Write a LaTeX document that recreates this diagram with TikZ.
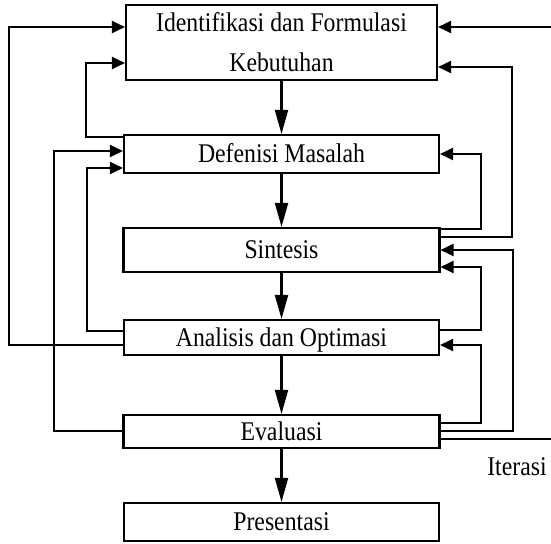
\documentclass[tikz,border=0pt]{standalone}
\usepackage{fontspec}
\setmainfont{Liberation Serif}[FakeStretch=0.88]
\usetikzlibrary{arrows.meta}
\begin{document}
\begin{tikzpicture}[x=1pt,y=-1pt,
  txt/.style={font=\fontsize{27}{40}\selectfont},
  box/.style={draw, line width=2.1pt, inner sep=0pt, txt},
  one/.style={text height=17.9pt, text depth=0pt},
  dn/.style={line width=2.1pt, -{Triangle[length=24pt,width=13pt]}},
  fb/.style={line width=2.1pt, -{Triangle[length=13pt,width=12pt]}},
  ln/.style={line width=2.1pt}
  ]
\useasboundingbox (0,0) rectangle (551,543);
\node[box, minimum width=311pt, minimum height=75pt, align=center] (b1) at (281.5,42.5) {Identifikasi dan Formulasi\\Kebutuhan};
\node[box, one, minimum width=315pt, minimum height=38pt] (b2) at (281.5,154) {Defenisi Masalah};
\node[box, one, minimum width=316pt, minimum height=44pt] (b3) at (281.5,250) {Sintesis};
\node[box, one, minimum width=315pt, minimum height=35pt] (b4) at (281.5,337.5) {Analisis dan Optimasi};
\node[box, one, minimum width=316pt, minimum height=33pt] (b5) at (281.5,431.5) {Evaluasi};
\node[box, one, minimum width=315pt, minimum height=38pt] (b6) at (281.5,522) {Presentasi};
\node[txt, anchor=base, inner sep=0pt] (it) at (517,475) {Iterasi};
% main flow
\draw[dn] (b1) -- (b2);
\draw[dn] (b2) -- (b3);
\draw[dn] (b3) -- (b4);
\draw[dn] (b4) -- (b5);
\draw[dn] (b5) -- (b6);
% left feedback
\draw[fb] (b4.west |- 0,345) -| (9,27) -- (b1.west |- 0,27);
\draw[fb] (b2.west |- 0,137) -| (86,63) -- (b1.west |- 0,63);
\draw[fb] (b5.west |- 0,431) -| (54,151) -- (b2.west |- 0,151);
\draw[fb] (b4.west |- 0,331) -| (87,168) -- (b2.west |- 0,168);
% right feedback
\coordinate (e1) at (551,27);
\coordinate (e2) at (551,439);
\draw[fb] (e1) -- (b1.east |- e1);
\draw[fb] (b3.east |- 0,237) -| (512,67) -- (b1.east |- 0,67);
\draw[fb] (b3.east |- 0,229) -| (481,154) -- (b2.east |- 0,154);
\draw[fb] (b5.east |- 0,431) -| (513,250) -- (b3.east |- 0,250);
\draw[fb] (b4.east |- 0,330) -| (481,267) -- (b3.east |- 0,267);
\draw[fb] (b5.east |- 0,423) -| (481,345) -- (b4.east |- 0,345);
\draw[ln] (b5.east |- e2) -- (e2);
\end{tikzpicture}
\end{document}
